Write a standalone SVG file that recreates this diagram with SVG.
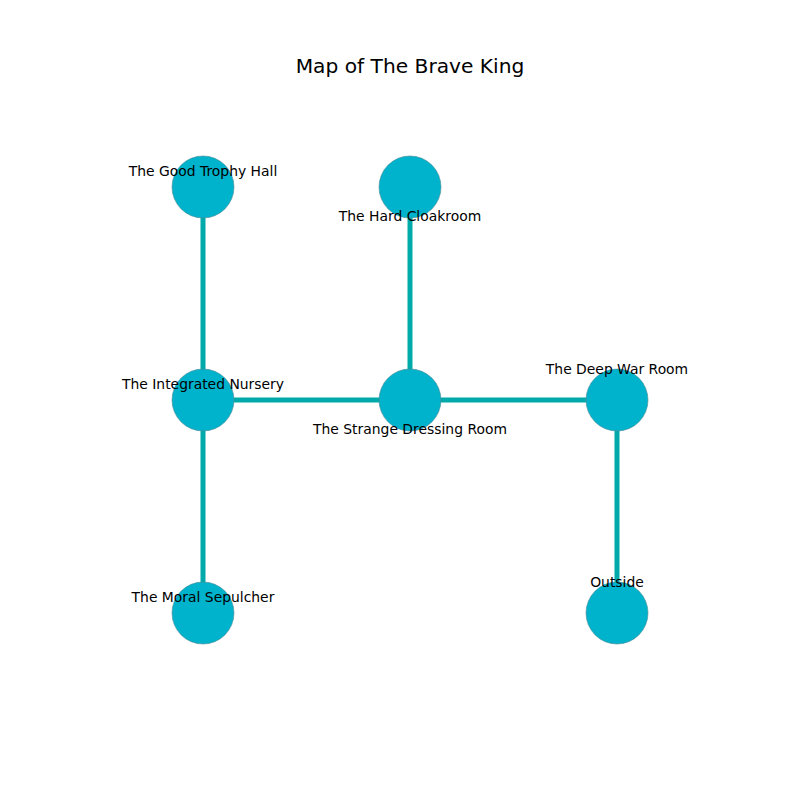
<svg xmlns="http://www.w3.org/2000/svg" width="800" height="800" viewBox="0 0 800 800">
<style>
.edge{stroke:#00aaaa;stroke-width:5;fill:none}
.node circle{fill:#00b3cc;stroke:#4d8a94;stroke-width:0.6}
.lbl{font-family:"DejaVu Sans",sans-serif;font-size:13.9px;fill:#000;text-anchor:middle;dominant-baseline:central}
.title{font-family:"DejaVu Sans",sans-serif;font-size:20.2px;fill:#000;text-anchor:middle;dominant-baseline:central}
</style>
<rect width="800" height="800" fill="#fff"/>
<text class="title" x="410" y="66">Map of The Brave King</text>
<g id="connectors">
<line class="edge" x1="203" y1="187" x2="203" y2="400"/>
<line class="edge" x1="203" y1="400" x2="203" y2="613"/>
<line class="edge" x1="203" y1="400" x2="410" y2="400"/>
<line class="edge" x1="410" y1="400" x2="617" y2="400"/>
<line class="edge" x1="410" y1="187" x2="410" y2="400"/>
<line class="edge" x1="617" y1="400" x2="617" y2="613"/>
</g>
<g id="node-good-trophy-hall" class="node"><circle cx="203" cy="187" r="31"/></g>
<g id="node-hard-cloakroom" class="node"><circle cx="410" cy="187" r="31"/></g>
<g id="node-integrated-nursery" class="node"><circle cx="203" cy="400" r="31"/></g>
<g id="node-strange-dressing-room" class="node"><circle cx="410" cy="400" r="31"/></g>
<g id="node-deep-war-room" class="node"><circle cx="617" cy="400" r="31"/></g>
<g id="node-moral-sepulcher" class="node"><circle cx="203" cy="613" r="31"/></g>
<g id="node-outside" class="node"><circle cx="617" cy="613" r="31"/></g>
<g id="labels">
<text class="lbl" x="203" y="171">The Good Trophy Hall</text>
<text class="lbl" x="410" y="216">The Hard Cloakroom</text>
<text class="lbl" x="203" y="384">The Integrated Nursery</text>
<text class="lbl" x="410" y="429">The Strange Dressing Room</text>
<text class="lbl" x="617" y="369">The Deep War Room</text>
<text class="lbl" x="203" y="597">The Moral Sepulcher</text>
<text class="lbl" x="617" y="582">Outside</text>
</g>
</svg>
